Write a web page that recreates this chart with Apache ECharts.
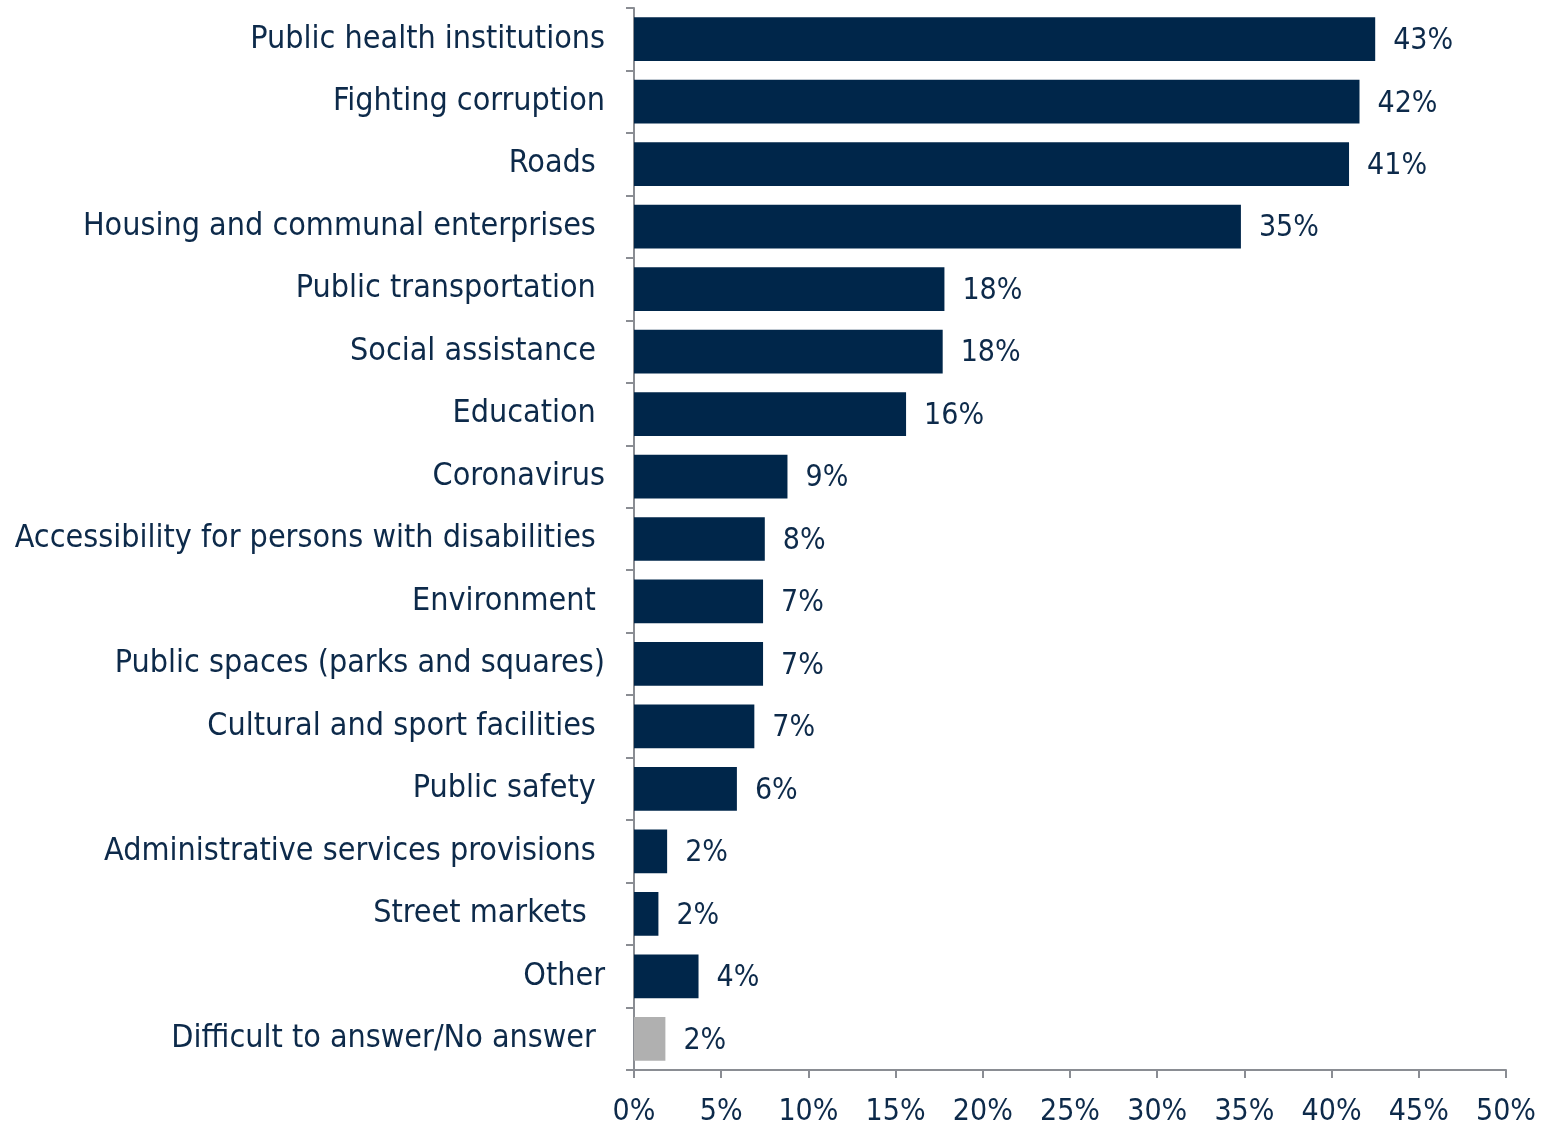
<!DOCTYPE html>
<html>
<head>
<meta charset="utf-8">
<script src="https://cdn.jsdelivr.net/npm/echarts@6/dist/echarts.min.js"></script>
<style>
html,body{margin:0;padding:0;background:#fff;}
#chart{width:1554px;height:1127px;}
</style>
</head>
<body>
<div id="chart"></div>
<script>
const categories = [
  "Public health institutions",
  "Fighting corruption",
  "Roads ",
  "Housing and communal enterprises ",
  "Public transportation ",
  "Social assistance ",
  "Education ",
  "Coronavirus",
  "Accessibility for persons with disabilities ",
  "Environment ",
  "Public spaces (parks and squares)",
  "Cultural and sport facilities ",
  "Public safety ",
  "Administrative services provisions ",
  "Street markets  ",
  "Other",
  "Difficult to answer/No answer "
];
const values = [42.5, 41.6, 41.0, 34.8, 17.8, 17.7, 15.6, 8.8, 7.5, 7.4, 7.4, 6.9, 5.9, 1.9, 1.4, 3.7, 1.8];
const valueLabels = ["43%","42%","41%","35%","18%","18%","16%","9%","8%","7%","7%","7%","6%","2%","2%","4%","2%"];
const xTicks = [0,5,10,15,20,25,30,35,40,45,50];

const NAVY = '#00264a';
const GRAY = '#b0b0b0';
const TEXT = '#0d2a4a';
const AXIS = '#8a8d93';
const FONT = '"DejaVu Sans Condensed", "DejaVu Sans", sans-serif';

const chart = echarts.init(document.getElementById('chart'), null, {renderer:'canvas'});
chart.setOption({
  animation:false,
  backgroundColor:'#fff',
  grid:{left:634, right:48, top:8, bottom:57, containLabel:false},
  xAxis:{
    type:'value', min:xTicks[0], max:xTicks[xTicks.length-1], interval:5,
    axisLine:{show:true, lineStyle:{color:AXIS, width:2}},
    axisTick:{show:true, length:8, lineStyle:{color:AXIS, width:2}},
    splitLine:{show:false},
    axisLabel:{color:TEXT, fontSize:30, fontFamily:FONT, margin:27, formatter:v=>v+'%'}
  },
  yAxis:{
    type:'category', data:categories, inverse:true,
    axisLine:{show:true, lineStyle:{color:AXIS, width:2}},
    axisTick:{show:true, length:8, lineStyle:{color:AXIS, width:2}},
    axisLabel:{color:TEXT, fontSize:32, fontFamily:FONT, margin:29}
  },
  series:[{
    type:'bar',
    data:values.map((v,i)=>({value:v, itemStyle:{color: i===values.length-1 ? GRAY : NAVY}})),
    barCategoryGap:'30%',
    label:{show:true, position:'right', distance:18, offset:[0,2], color:TEXT, fontSize:30, fontFamily:FONT,
      formatter:p=>valueLabels[p.dataIndex]}
  }]
});
</script>
</body>
</html>
